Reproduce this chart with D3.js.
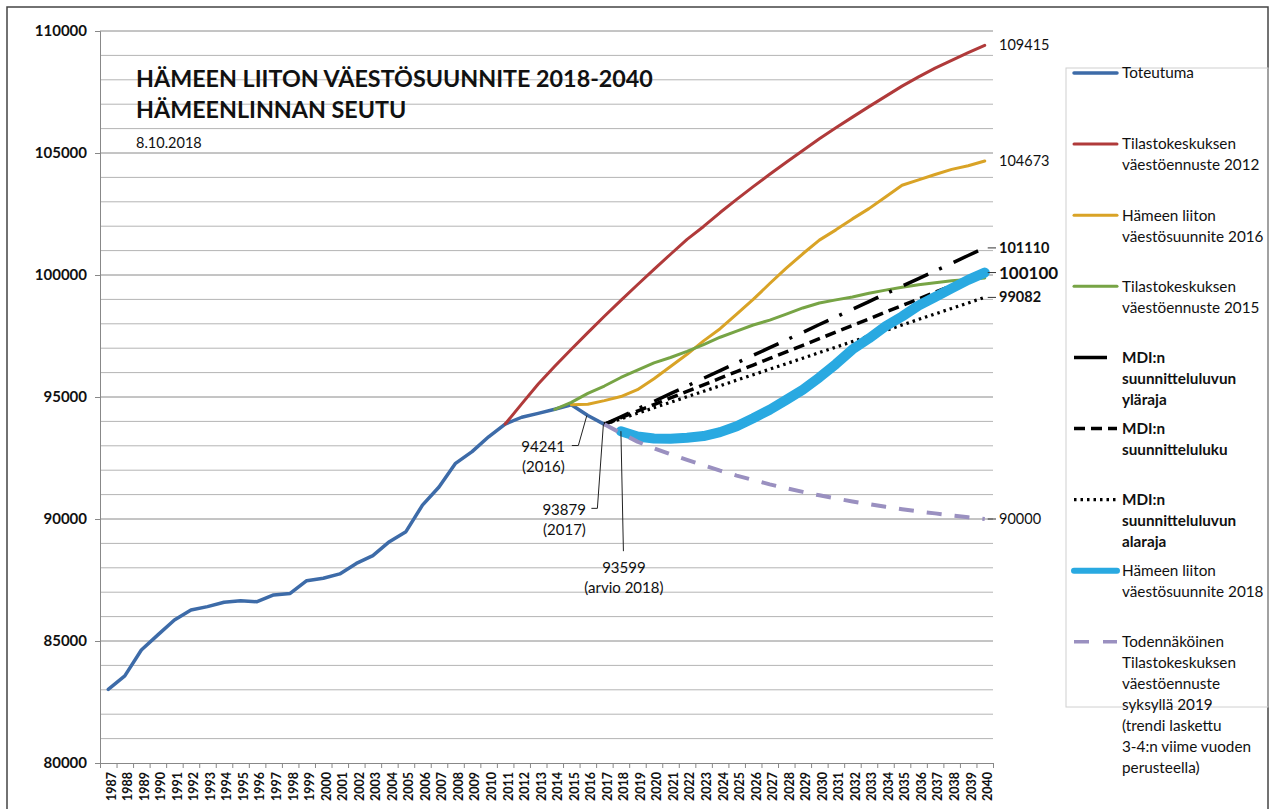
<!DOCTYPE html>
<html>
<head>
<meta charset="utf-8">
<script src="https://cdn.jsdelivr.net/npm/d3@7/dist/d3.min.js"></script>
<style>
  body { margin: 0; background: #fff; }
  svg text { font-family: Lato, "Open Sans", sans-serif; fill: #111; }
</style>
</head>
<body>
<div id="chart"></div>
<script>
// categories
const years = d3.range(1987, 2041);
const yTicks = [80000, 85000, 90000, 95000, 100000, 105000, 110000];

// Toteutuma 1987-2017
const toteutuma = [83020, 83570, 84630, 85250, 85860, 86270, 86410, 86590, 86650, 86610,
  86890, 86950, 87470, 87570, 87750, 88180, 88500, 89070, 89480, 90570,
  91310, 92280, 92760, 93370, 93893, 94170, 94330, 94496, 94684, 94241, 93879];
// Tilastokeskuksen väestöennuste 2012, 2011-2040
const tk2012 = [93893, 94720, 95530, 96260, 96960, 97640, 98310, 98960, 99600, 100230,
  100850, 101460, 101990, 102560, 103100, 103620, 104130, 104620, 105100, 105580,
  106030, 106470, 106900, 107320, 107740, 108120, 108480, 108800, 109110, 109415];
// Hämeen liiton väestösuunnite 2016, 2015-2040
const hl2016 = [94684, 94700, 94850, 95020, 95300, 95750, 96250, 96750, 97300, 97800,
  98400, 99000, 99650, 100280, 100870, 101430, 101850, 102300, 102720, 103200,
  103680, 103900, 104120, 104330, 104480, 104673];
// Tilastokeskuksen väestöennuste 2015, 2014-2040
const tk2015 = [94496, 94780, 95150, 95450, 95800, 96100, 96400, 96620, 96870, 97150,
  97450, 97700, 97950, 98150, 98400, 98650, 98850, 98980, 99100, 99250,
  99380, 99500, 99600, 99680, 99760, 99820, 99880];
// MDI, 2017-2040
const mdiYla = [93879, 94190, 94510, 94820, 95140, 95450, 95770, 96080, 96400, 96710,
  97020, 97340, 97650, 97970, 98280, 98600, 98910, 99230, 99540, 99850,
  100170, 100480, 100800, 101110];
const mdiLuku = [93879, 94150, 94420, 94690, 94960, 95230, 95500, 95770, 96040, 96310,
  96580, 96850, 97120, 97390, 97660, 97930, 98200, 98480, 98750, 99020,
  99290, 99560, 99830, 100100];
const mdiAla = [93879, 94105, 94330, 94560, 94785, 95010, 95235, 95460, 95690, 95915,
  96140, 96365, 96590, 96820, 97045, 97270, 97500, 97725, 97950, 98180,
  98405, 98630, 98855, 99082];
// Hämeen liiton väestösuunnite 2018, 2018-2040
const hl2018 = [93599, 93380, 93300, 93290, 93330, 93400, 93560, 93800, 94130, 94480,
  94880, 95300, 95800, 96350, 96950, 97400, 97900, 98300, 98750, 99100,
  99450, 99800, 100100];
// Todennäköinen Tilastokeskuksen väestöennuste 2019, 2017-2040
const tk2019 = [93879, 93520, 93170, 92900, 92650, 92420, 92200, 91980, 91780, 91600,
  91420, 91260, 91110, 90970, 90840, 90720, 90610, 90500, 90400, 90310,
  90230, 90150, 90070, 90000];

const series = [
  { name: ['Toteutuma'], start: 1987, values: toteutuma, color: '#3d6ba8', width: 3.5 },
  { name: ['Tilastokeskuksen', 'väestöennuste 2012'], start: 2011, values: tk2012, color: '#b03a3a', width: 3, label: true },
  { name: ['Hämeen liiton', 'väestösuunnite 2016'], start: 2015, values: hl2016, color: '#d9a326', width: 3, label: true },
  { name: ['Tilastokeskuksen', 'väestöennuste 2015'], start: 2014, values: tk2015, color: '#77a445', width: 3 },
  { name: ['MDI:n', 'suunnitteluluvun', 'yläraja'], start: 2017, values: mdiYla, color: '#000', width: 3.5, dash: '27,12,3,13', bold: true, label: true, legendDash: '33,100' },
  { name: ['MDI:n', 'suunnitteluluku'], start: 2017, values: mdiLuku, color: '#000', width: 3.5, dash: '11,6', bold: true },
  { name: ['MDI:n', 'suunnitteluluvun', 'alaraja'], start: 2017, values: mdiAla, color: '#000', width: 3.2, dash: '2.5,4', bold: true, label: true },
  { name: ['Hämeen liiton', 'väestösuunnite 2018'], start: 2018, values: hl2018, color: '#29a9e1', width: 10, label: true, big: true },
  { name: ['Todennäköinen', 'Tilastokeskuksen', 'väestöennuste', 'syksyllä 2019', '(trendi laskettu', '3-4:n viime vuoden', 'perusteella)'], start: 2017, values: tk2019, color: '#9a90c0', width: 4, dash: '15,13', label: true, legendDash: '15,14' }
];

const notes = [
  { year: 2016, value: 94241, text: ['94241', '(2016)'] },
  { year: 2017, value: 93879, text: ['93879', '(2017)'] },
  { year: 2018, value: 93599, text: ['93599', '(arvio 2018)'] }
];

const W = 1274, H = 809;
const m = { left: 100, right: 993, top: 31, bottom: 763 };

const svg = d3.select('#chart').append('svg')
  .attr('width', W).attr('height', H);

// outer frame
svg.append('rect')
  .attr('x', 7).attr('y', 7).attr('width', 1261).attr('height', 820)
  .attr('fill', 'none').attr('stroke', '#444').attr('stroke-width', 1.5);

const x = d3.scaleBand().domain(years).range([m.left, m.right]).padding(0);
const xc = yr => x(yr) + x.bandwidth() / 2;
const y = d3.scaleLinear().domain([80000, 110000]).range([m.bottom, m.top]);

// gridlines every 1000
svg.append('g').selectAll('line')
  .data(d3.range(81000, 110001, 1000))
  .join('line')
    .attr('x1', m.left).attr('x2', m.right)
    .attr('y1', d => y(d)).attr('y2', d => y(d))
    .attr('stroke', d => d % 5000 === 0 ? '#8a8a8a' : '#b4b4b4')
    .attr('stroke-width', 1);

// y axis
const yAxis = svg.append('g')
  .attr('transform', `translate(${m.left},0)`)
  .call(d3.axisLeft(y).tickValues(yTicks).tickSize(5).tickPadding(8).tickFormat(d3.format('d')));
yAxis.select('.domain').attr('stroke', '#888');
yAxis.selectAll('.tick line').attr('stroke', '#888');
yAxis.selectAll('.tick text')
  .style('font-family', 'Lato, sans-serif').style('font-size', '15px').style('font-weight', 'bold').attr('fill', '#111');

// x axis: boundary ticks + rotated labels
const xb = d3.scaleLinear().domain([0, years.length]).range([m.left, m.right]);
const xAxis = svg.append('g')
  .attr('transform', `translate(0,${m.bottom})`)
  .call(d3.axisBottom(xb).tickValues(d3.range(0, years.length + 1)).tickSize(5).tickFormat(''));
xAxis.select('.domain').attr('stroke', '#888');
xAxis.selectAll('.tick line').attr('stroke', '#888');

svg.append('g').selectAll('text')
  .data(years)
  .join('text')
    .attr('transform', d => `translate(${xc(d) + 3},${m.bottom + 9}) rotate(-90)`)
    .attr('text-anchor', 'end')
    .attr('dy', '0.35em')
    .style('font-size', '12.5px').style('font-weight', 'bold')
    .text(d => d);

// title
const title = svg.append('g');
title.append('text').attr('x', 136).attr('y', 87)
  .style('font-size', '23.3px').style('font-weight', 'bold')
  .text('HÄMEEN LIITON VÄESTÖSUUNNITE 2018-2040');
title.append('text').attr('x', 136).attr('y', 118)
  .style('font-size', '23.3px').style('font-weight', 'bold')
  .text('HÄMEENLINNAN SEUTU');
title.append('text').attr('x', 136).attr('y', 148)
  .style('font-size', '14.5px')
  .text('8.10.2018');

// lines
const line = d3.line().x(d => xc(d.year)).y(d => y(d.v));
const pts = s => s.values.map((v, i) => ({ year: s.start + i, v }));

svg.append('g').selectAll('path')
  .data(series)
  .join('path')
    .attr('d', s => line(pts(s)))
    .attr('fill', 'none')
    .attr('stroke', s => s.color)
    .attr('stroke-width', s => s.width)
    .attr('stroke-dasharray', s => s.dash || null)
    .attr('stroke-linejoin', 'round')
    .attr('stroke-linecap', s => s.dash ? 'butt' : 'round');

// end labels
const endG = svg.append('g');
series.filter(s => s.label).forEach(s => {
  const last = s.values[s.values.length - 1];
  const ly = y(last);
  if (s.color === '#000' || s.big || s.dash) {
    endG.append('line').attr('x1', xc(2040) + 3).attr('x2', 996)
      .attr('y1', ly).attr('y2', ly).attr('stroke', '#333').attr('stroke-width', 1);
  }
  endG.append('text')
    .attr('x', 999).attr('y', ly).attr('dy', '0.35em')
    .style('font-size', s.big ? '17px' : '14.5px')
    .style('font-weight', (s.bold || s.big) ? 'bold' : 'normal')
    .text(last);
});

// annotations with leader lines
const noteG = svg.append('g');
const off = [
  { lx: -8.5, ly: 30, hx: -15, tx: -22, anchor: 'end' },
  { lx: -6, ly: 84, hx: -12, tx: -17.5, anchor: 'end' },
  { lx: 2.5, ly: 120, hx: null, tx: 3, anchor: 'middle' }
];
notes.forEach((n, i) => {
  const px = xc(n.year) - (n.year === 2018 ? 0 : 1), py = y(n.value);
  const o = off[i];
  const p = d3.path();
  p.moveTo(px, py);
  p.lineTo(px + o.lx, py + o.ly);
  if (o.hx !== null) p.lineTo(px + o.hx, py + o.ly);
  noteG.append('path').attr('d', p.toString())
    .attr('fill', 'none').attr('stroke', '#222').attr('stroke-width', 1);
  const baseY = o.hx !== null ? py + o.ly + 1 : py + o.ly + 17;
  n.text.forEach((t, j) => {
    noteG.append('text')
      .attr('x', px + o.tx).attr('y', baseY + j * 20).attr('dy', '0.35em')
      .attr('text-anchor', o.anchor)
      .style('font-size', '15px')
      .text(t);
  });
});

// legend
const lg = svg.append('g');
lg.append('rect').attr('x', 1066).attr('y', 68).attr('width', 202).attr('height', 639)
  .attr('fill', 'none').attr('stroke', '#d0d0d0').attr('stroke-width', 1);
series.forEach((s, i) => {
  const iy = 73 + i * 71.1;
  lg.append('line')
    .attr('x1', 1074).attr('x2', 1117).attr('y1', iy).attr('y2', iy)
    .attr('stroke', s.color)
    .attr('stroke-width', s.big ? 6 : Math.min(s.width, 3.5))
    .attr('stroke-dasharray', s.legendDash || s.dash || null)
    .attr('stroke-linecap', s.dash ? 'butt' : 'round');
  s.name.forEach((t, j) => {
    lg.append('text')
      .attr('x', 1122).attr('y', iy + j * 21).attr('dy', '0.35em')
      .style('font-size', '15.3px')
      .style('font-weight', s.bold ? 'bold' : 'normal')
      .text(t);
  });
});
</script>
</body>
</html>
